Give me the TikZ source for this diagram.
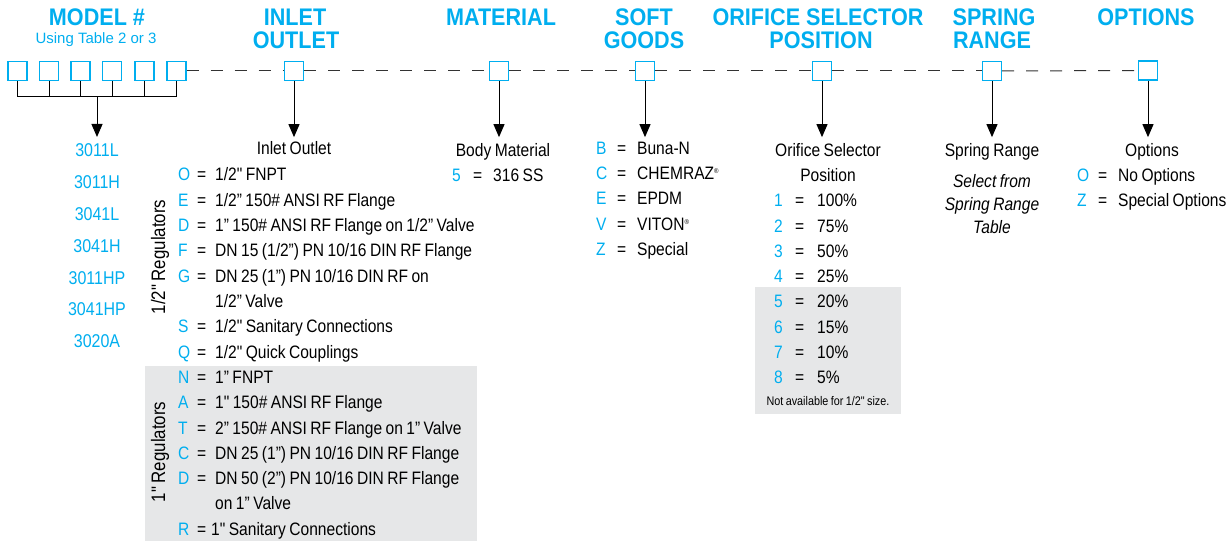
\documentclass[tikz,border=0pt]{standalone}
\usepackage{fontspec}
\setmainfont{Liberation Sans}
\newfontfamily\cond{Liberation Sans}[FakeStretch=0.865,WordSpace=0.8]
\newfontfamily\hdf{Liberation Sans}[FakeStretch=0.9]
\usetikzlibrary{arrows.meta}
\definecolor{cb}{HTML}{00AEEF}
\definecolor{gbox}{HTML}{E6E7E8}
\newcommand\kv[6]{\node[body,anchor=base west] (#1) at (#2) {\makebox[#3][l]{\textcolor{cb}{#5}}\makebox[#4][l]{=}#6};}
\newcommand\regmark{\raisebox{6bp}{\fontsize{7bp}{7bp}\selectfont\char"00AE}}
\tikzset{
  hd/.style={font=\hdf\bfseries\fontsize{24bp}{26bp}\selectfont, text=cb, inner sep=0, anchor=base},
  subhd/.style={font=\fontsize{15bp}{17bp}\selectfont, text=cb, inner sep=0, anchor=base},
  body/.style={font=\cond\fontsize{18bp}{20bp}\selectfont, inner sep=0, anchor=base},
  mnum/.style={body, text=cb, font=\cond\fontsize{18.5bp}{20bp}\selectfont},
  bx/.style={draw=cb, line width=1.3bp, fill=white, minimum size=19bp, inner sep=0},
  dsh/.style={draw=black!80, line width=1bp, dash pattern=on 12bp off 12bp},
  arr/.style={-{Triangle[length=13bp,width=11bp]}, line width=1bp},
  brk/.style={line width=1bp},
}
\begin{document}
\begin{tikzpicture}[x=1bp,y=-1bp]
\useasboundingbox (0,0) rectangle (1230,541);
% gray backgrounds
\fill[gbox] (145,366) rectangle (477,541);
\fill[gbox] (755,287) rectangle (901,414);
% headers
\node[hd] (hModel) at (97,26) {MODEL \#};
\node[subhd] (hUsing) at (96,44) {Using Table 2 or 3};
\node[hd] (hIn1) at (295,26) {INLET};
\node[hd] (hIn2) at (296,49) {OUTLET};
\node[hd] (hMat) at (501,26) {MATERIAL};
\node[hd] (hSoft1) at (644,26) {SOFT};
\node[hd] (hSoft2) at (644,49) {GOODS};
\node[hd] (hOr1) at (818,26) {ORIFICE SELECTOR};
\node[hd] (hOr2) at (821,49) {POSITION};
\node[hd] (hSp1) at (994,26) {SPRING};
\node[hd] (hSp2) at (992,49) {RANGE};
\node[hd] (hOpt) at (1146,26) {OPTIONS};
% boxes
\node[bx] (m1) at (17.5,71) {};
\node[bx] (m2) at (49,71) {};
\node[bx] (m3) at (80.5,71) {};
\node[bx] (m4) at (112,71) {};
\node[bx] (m5) at (144.5,71) {};
\node[bx] (m6) at (176.5,71) {};
\node[bx] (bIn) at (294,71) {};
\node[bx] (bMat) at (499,71) {};
\node[bx] (bSoft) at (645,71) {};
\node[bx] (bOr) at (822,71) {};
\node[bx] (bSp) at (992,71) {};
\node[bx] (bOpt) at (1148,70.5) {};
% dashed connectors
\draw[dsh] (m6.east) -- (bIn.west);
\draw[dsh] (bIn.east) -- (bMat.west);
\draw[dsh] (bMat.east) -- (bSoft.west);
\draw[dsh] (bSoft.east) -- (bOr.west);
\draw[dsh] (bOr.east) -- (bSp.west);
\draw[dsh] (bSp.east) -- (bOpt.west);
% model bracket
\coordinate (mj) at (97,97);
\coordinate (mtip) at (97,137);
\draw[brk] (m1.south) -- (m1.south |- mj) -- (m6.south |- mj) -- (m6.south);
\draw[brk] (m2.south) -- (m2.south |- mj);
\draw[brk] (m3.south) -- (m3.south |- mj);
\draw[brk] (m4.south) -- (m4.south |- mj);
\draw[brk] (m5.south) -- (m5.south |- mj);
\draw[arr] (mj) -- (mtip);
% arrows
\draw[arr] (bIn.south) -- ++(0,56);
\draw[arr] (bMat.south) -- ++(0,56);
\draw[arr] (bSoft.south) -- ++(0,56);
\draw[arr] (bOr.south) -- ++(0,56);
\draw[arr] (bSp.south) -- ++(0,56);
\draw[arr] (bOpt.south) -- ++(0,56.5);
% model numbers
\node[mnum] (n1) at (97,157) {3011L};
\node[mnum] (n2) at (97,188.8) {3011H};
\node[mnum] (n3) at (97,220.6) {3041L};
\node[mnum] (n4) at (97,252.4) {3041H};
\node[mnum] (n5) at (97,284.2) {3011HP};
\node[mnum] (n6) at (97,316) {3041HP};
\node[mnum] (n7) at (97,347.8) {3020A};
% inlet outlet
\node[body] (tIn) at (294,155) {Inlet Outlet};
\node[body,rotate=90,anchor=center,font=\cond\fontsize{19.5bp}{21bp}\selectfont] (rHalf) at (160,257) {1/2" Regulators};
\node[body,rotate=90,anchor=center,font=\cond\fontsize{19.5bp}{21bp}\selectfont] (rOne) at (160,452) {1" Regulators};
\kv{iO}{178,181}{19bp}{18bp}{O}{1/2" FNPT}
\kv{iE}{178,206.3}{19bp}{18bp}{E}{1/2” 150\# ANSI RF Flange}
\kv{iD}{178,231.6}{19bp}{18bp}{D}{1” 150\# ANSI RF Flange on 1/2” Valve}
\kv{iF}{178,256.9}{19bp}{18bp}{F}{DN 15 (1/2”) PN 10/16 DIN RF Flange}
\kv{iG}{178,282.2}{19bp}{18bp}{G}{DN 25 (1”) PN 10/16 DIN RF on}
\node[body,anchor=base west] (iG2) at (215,307.5) {1/2” Valve};
\kv{iS}{178,332.8}{19bp}{18bp}{S}{1/2" Sanitary Connections}
\kv{iQ}{178,358.1}{19bp}{18bp}{Q}{1/2" Quick Couplings}
\kv{iN}{178,383.4}{19bp}{18bp}{N}{1” FNPT}
\kv{iA}{178,408.7}{19bp}{18bp}{A}{1" 150\# ANSI RF Flange}
\kv{iT}{178,434}{19bp}{18bp}{T}{2” 150\# ANSI RF Flange on 1” Valve}
\kv{iC}{178,459.3}{19bp}{18bp}{C}{DN 25 (1”) PN 10/16 DIN RF Flange}
\kv{iD2}{178,484.6}{19bp}{18bp}{D}{DN 50 (2”) PN 10/16 DIN RF Flange}
\node[body,anchor=base west] (iD22) at (215,509.9) {on 1” Valve};
\kv{iR}{178,535.2}{19bp}{14bp}{R}{1" Sanitary Connections}
% material
\node[body] (tMat) at (503,157) {Body Material};
\kv{m5v}{452,182}{21bp}{20bp}{5}{316 SS}
% soft goods
\kv{sB}{596,155}{21bp}{20bp}{B}{Buna-N}
\kv{sC}{596,180}{21bp}{20bp}{C}{CHEMRAZ\regmark}
\kv{sE}{596,205}{21bp}{20bp}{E}{EPDM}
\kv{sV}{596,230.6}{21bp}{20bp}{V}{VITON\regmark}
\kv{sZ}{596,256}{21bp}{20bp}{Z}{Special}
% orifice
\node[body] (tOr1) at (828,157) {Orifice Selector};
\node[body] (tOr2) at (828,182) {Position};
\kv{o1}{774,207}{21bp}{22bp}{1}{100\%}
\kv{o2}{774,232.3}{21bp}{22bp}{2}{75\%}
\kv{o3}{774,257.5}{21bp}{22bp}{3}{50\%}
\kv{o4}{774,282.8}{21bp}{22bp}{4}{25\%}
\kv{o5}{774,308}{21bp}{22bp}{5}{20\%}
\kv{o6}{774,333.3}{21bp}{22bp}{6}{15\%}
\kv{o7}{774,358.5}{21bp}{22bp}{7}{10\%}
\kv{o8}{774,383.8}{21bp}{22bp}{8}{5\%}
\node[body,font=\cond\fontsize{12.5bp}{14bp}\selectfont] (oNote) at (828,405) {Not available for 1/2" size.};
% spring
\node[body] (tSp) at (992,157) {Spring Range};
\node[body,font=\cond\itshape\fontsize{18bp}{20bp}\selectfont] (sp1) at (992,188) {Select from};
\node[body,font=\cond\itshape\fontsize{18bp}{20bp}\selectfont] (sp2) at (992,211) {Spring Range};
\node[body,font=\cond\itshape\fontsize{18bp}{20bp}\selectfont] (sp3) at (992,234) {Table};
% options
\node[body] (tOpt) at (1152,157) {Options};
\kv{pO}{1077,182}{21bp}{20bp}{O}{No Options}
\kv{pZ}{1077,207}{21bp}{20bp}{Z}{Special Options}
\end{tikzpicture}
\end{document}
